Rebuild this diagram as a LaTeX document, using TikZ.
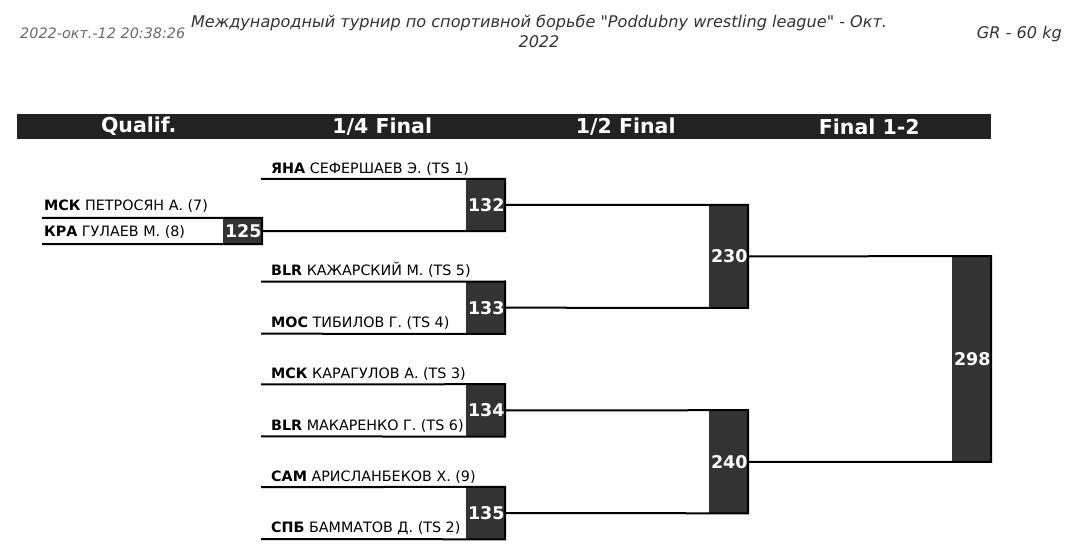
\documentclass[tikz,border=0pt]{standalone}
\usepackage{fontspec}
\setmainfont{DejaVu Sans}[Ligatures=TeXOff]
\definecolor{barc}{HTML}{222222}
\definecolor{boxc}{HTML}{333333}
\definecolor{tsc}{HTML}{6A6A6A}
\definecolor{ttlc}{HTML}{333333}
\begin{document}
\begin{tikzpicture}[x=1pt,y=-1pt,
  hdr/.style={text=white,font=\fontsize{20.5}{22}\selectfont\bfseries,inner sep=0pt,anchor=center},
  nm/.style={anchor=base west,inner sep=0pt,font=\fontsize{14.3}{16}\selectfont},
  mbox/.style={fill=boxc,draw=none,inner xsep=2pt,inner ysep=0pt,text width=35pt,align=right,
     minimum width=39pt,text=white,font=\fontsize{17.5}{19}\selectfont\bfseries},
  ln/.style={line width=2pt,draw=black,line join=miter},
  tsx/.style={font=\fontsize{14.4}{16}\selectfont\itshape,text=tsc,inner sep=0pt},
  ttl/.style={font=\fontsize{16.1}{20}\selectfont\itshape,text=ttlc,inner sep=0pt,anchor=base}
]
\useasboundingbox[fill=white] (0,0) rectangle (1080,548);

% page header
\node[tsx,anchor=base west] (stamp) at (20,38.5) {2022-окт.-12 20:38:26};
\node[ttl] (title1) at (539,28) {Международный турнир по спортивной борьбе "Poddubny wrestling league" - Окт.};
\node[ttl] (title2) at (539,48) {2022};
\node[ttl,anchor=base east] (cat) at (1062,39) {GR - 60 kg};

% round header bar
\fill[barc] (17,114) rectangle (991,139);
\node[hdr] (h1) at (138.75,126.5) {Qualif.};
\node[hdr] (h2) at (382.25,126.5) {1/4 Final};
\node[hdr] (h3) at (625.75,126.5) {1/2 Final};
\node[hdr] (h4) at (869.25,126.5) {Final 1-2};

% match boxes
\node[mbox,minimum height=26pt] (m125) at (242.5,231) {125};
\node[mbox,minimum height=52pt] (m132) at (485.5,205) {132};
\node[mbox,minimum height=52pt] (m133) at (485.5,307.7) {133};
\node[mbox,minimum height=52pt] (m134) at (485.5,410.4) {134};
\node[mbox,minimum height=52pt] (m135) at (485.5,513.1) {135};
\node[mbox,minimum height=102.7pt] (m230) at (728.5,256.35) {230};
\node[mbox,minimum height=102.7pt] (m240) at (728.5,461.75) {240};
\node[mbox,minimum height=205.4pt] (m298) at (971.5,359.05) {298};

% line start points
\coordinate (q0a) at (42,218);
\coordinate (q0b) at (42,244);
\coordinate (f0a) at (261,179);
\coordinate (f1a) at (261,281.7);
\coordinate (f1b) at (261,333.7);
\coordinate (f2a) at (261,384.4);
\coordinate (f2b) at (261,436.4);
\coordinate (f3a) at (261,487.1);
\coordinate (f3b) at (261,539.1);

% connectors
\draw[ln] (q0a) -- (m125.north east) -- (m125.south east) -- (q0b);
\draw[ln] (f0a) -- (m132.north east) -- (m132.south east) -- (m125.east);
\draw[ln] (f1a) -- (m133.north east) -- (m133.south east) -- (f1b);
\draw[ln] (f2a) -- (m134.north east) -- (m134.south east) -- (f2b);
\draw[ln] (f3a) -- (m135.north east) -- (m135.south east) -- (f3b);
\draw[ln] (m132.east) -- (m230.north east) -- (m230.south east) -- (m133.east);
\draw[ln] (m134.east) -- (m240.north east) -- (m240.south east) -- (m135.east);
\draw[ln] (m230.east) -- (m298.north east) -- (m298.south east) -- (m240.east);

% participants
\node[nm] (p1) at (44,211) {\textbf{МСК} ПЕТРОСЯН А. (7)};
\node[nm] (p2) at (44,237) {\textbf{КРА} ГУЛАЕВ М. (8)};
\node[nm] (p3) at (271,173.5) {\textbf{ЯНА} СЕФЕРШАЕВ Э. (TS 1)};
\node[nm] (p4) at (271,276) {\textbf{BLR} КАЖАРСКИЙ М. (TS 5)};
\node[nm] (p5) at (271,327.5) {\textbf{МОС} ТИБИЛОВ Г. (TS 4)};
\node[nm] (p6) at (271,378.7) {\textbf{МСК} КАРАГУЛОВ А. (TS 3)};
\node[nm] (p7) at (271,430.2) {\textbf{BLR} МАКАРЕНКО Г. (TS 6)};
\node[nm] (p8) at (271,481.4) {\textbf{САМ} АРИСЛАНБЕКОВ Х. (9)};
\node[nm] (p9) at (271,532.9) {\textbf{СПБ} БАММАТОВ Д. (TS 2)};
\end{tikzpicture}
\end{document}
